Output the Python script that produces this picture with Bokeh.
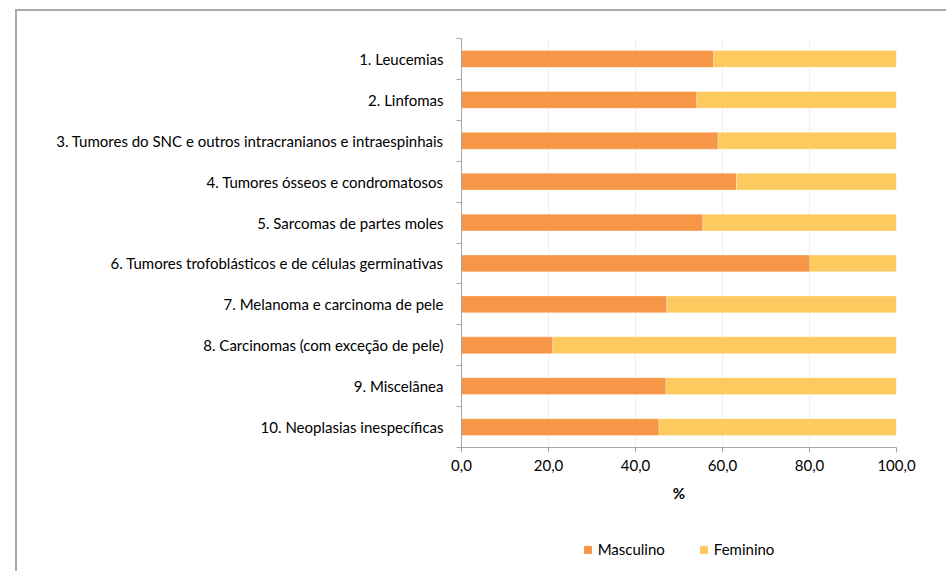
from bokeh.plotting import figure
from bokeh.layouts import column
from bokeh.models import (ColumnDataSource, Range1d, FixedTicker, Legend, LegendItem)
from bokeh.embed import file_html
from bokeh.resources import INLINE

# ---- data ----
categories = [
    "1. Leucemias",
    "2. Linfomas",
    "3. Tumores do SNC e outros intracranianos e intraespinhais",
    "4. Tumores ósseos e condromatosos",
    "5. Sarcomas de partes moles",
    "6. Tumores trofoblásticos e de células germinativas",
    "7. Melanoma e carcinoma de pele",
    "8. Carcinomas (com exceção de pele)",
    "9. Miscelânea",
    "10. Neoplasias inespecíficas",
]
masculino = [58.0, 54.1, 59.0, 63.2, 55.5, 80.1, 47.2, 21.0, 47.0, 45.4]
feminino = [42.0, 45.9, 41.0, 36.8, 44.5, 19.9, 52.8, 79.0, 53.0, 54.6]
x_ticks = [0, 20, 40, 60, 80, 100]
x_tick_labels = ["0,0", "20,0", "40,0", "60,0", "80,0", "100,0"]
series_names = ["Masculino", "Feminino"]
colors = ["#F79646", "#FDCA5F"]

FONT = "Lato"
FS = "15px"
n = len(categories)
ypos = [i + 0.5 for i in range(n)]

src = ColumnDataSource(dict(y=ypos, Masculino=masculino, Feminino=feminino, cat=categories))

p = figure(width=929, height=500, output_backend="svg", toolbar_location=None,
           x_range=Range1d(0, 100), y_range=Range1d(n, 0),
           min_border_left=444, min_border_right=50, min_border_top=27,
           min_border_bottom=64)
p.outline_line_color = None
p.background_fill_color = "white"

rs = p.hbar_stack(series_names, y="y", height=0.41, color=colors, source=src,
                  line_color="white", line_alpha=0.5, line_width=0.6)

# grid
p.ygrid.grid_line_color = None
p.xgrid.grid_line_color = "#eeeeee"
p.xgrid.ticker = FixedTicker(ticks=x_ticks)

# x axis
xa = p.xaxis[0]
xa.ticker = FixedTicker(ticks=x_ticks)
xa.major_label_overrides = {t: l for t, l in zip(x_ticks, x_tick_labels)}
xa.axis_label = "%"
xa.axis_label_text_font = FONT
xa.axis_label_text_font_style = "bold"
xa.axis_label_text_font_size = FS
xa.axis_label_text_color = "#000000"
xa.axis_label_standoff = 10
xa.major_label_text_font = FONT
xa.major_label_text_font_size = FS
xa.major_label_text_color = "#000000"
xa.major_label_standoff = 7
xa.axis_line_color = "#a6a6a6"
xa.major_tick_line_color = "#a6a6a6"
xa.major_tick_out = 5
xa.major_tick_in = 0
xa.minor_tick_line_color = None

# y axis
ya = p.yaxis[0]
ya.ticker = FixedTicker(ticks=ypos, minor_ticks=list(range(n + 1)))
ya.major_label_overrides = {y: c for y, c in zip(ypos, categories)}
ya.major_label_text_font = FONT
ya.major_label_text_font_size = FS
ya.major_label_text_color = "#000000"
ya.major_tick_line_color = None
ya.major_tick_out = 0
ya.major_tick_in = 0
ya.major_label_standoff = 13
ya.minor_tick_line_color = "#a6a6a6"
ya.minor_tick_out = 5
ya.minor_tick_in = 0
ya.axis_line_color = "#a6a6a6"

# ---- legend strip below ----
lf = figure(width=929, height=60, output_backend="svg", toolbar_location=None,
            x_range=Range1d(0, 100), y_range=Range1d(n, 0),
            x_axis_location=None, y_axis_location=None,
            min_border_left=380, min_border_right=0, min_border_top=16,
            min_border_bottom=0)
lf.outline_line_color = None
lf.grid.grid_line_color = None
proxies = lf.hbar_stack(series_names, y="y", height=0.41, color=colors, source=src)
for r in proxies:
    r.visible = False
legend = Legend(items=[LegendItem(label=name, renderers=[r]) for name, r in zip(series_names, proxies)],
                orientation="horizontal", location="center",
                glyph_width=9, glyph_height=9, label_standoff=6, spacing=34,
                label_text_font=FONT, label_text_font_size=FS,
                label_text_color="#000000", border_line_color=None,
                background_fill_alpha=0, margin=0, padding=0)
lf.add_layout(legend, "center")

layout = column(p, lf, spacing=0)
layout.margin = (9, 0, 0, 15)
layout.styles = {"border-top": "2px solid #a9a9a9", "border-left": "2px solid #a9a9a9"}

open("out.html", "w").write(file_html(layout, INLINE))
